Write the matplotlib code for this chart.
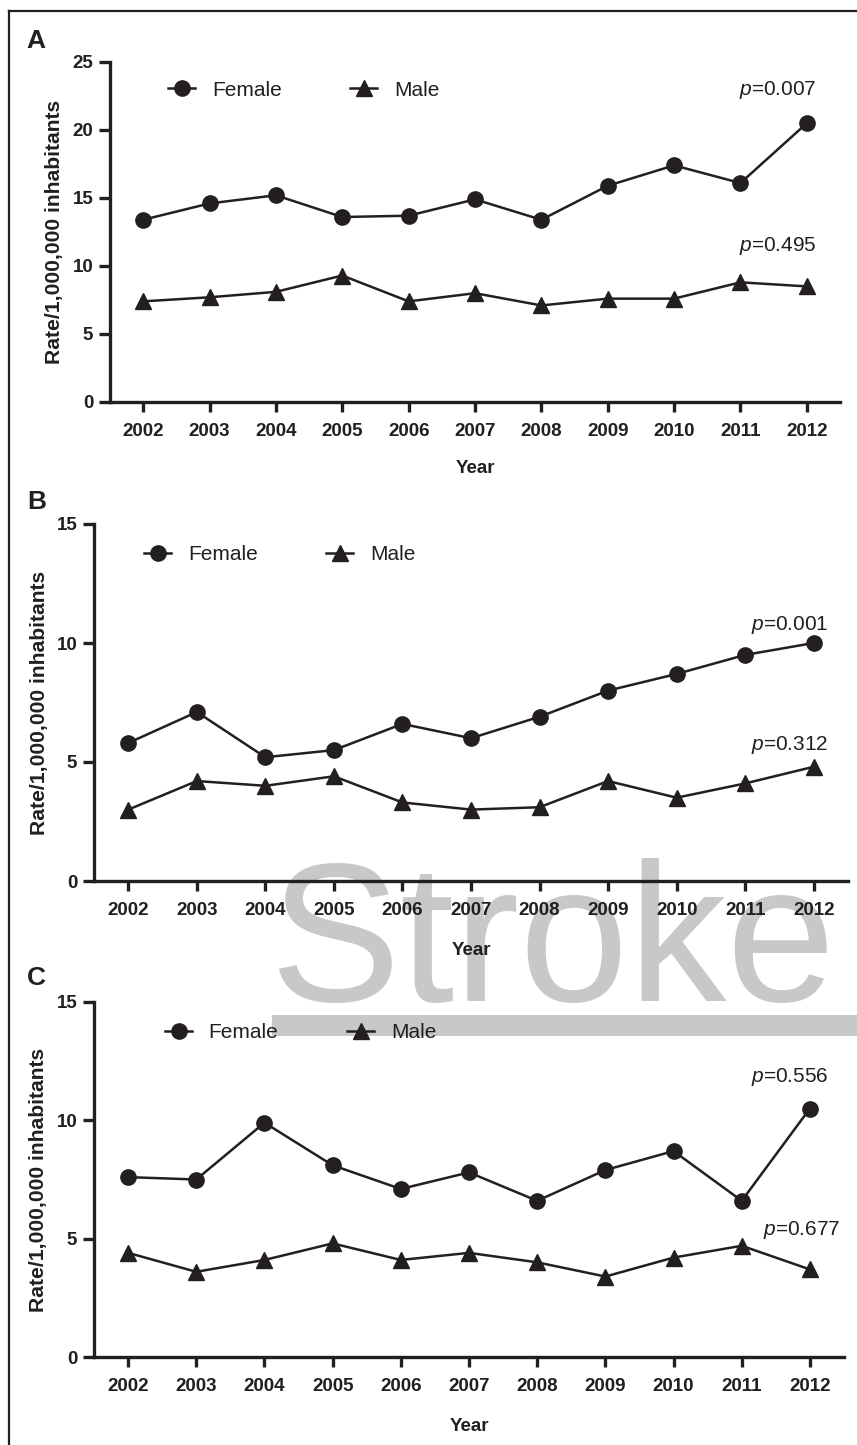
import matplotlib
matplotlib.use("Agg")
import matplotlib.pyplot as plt
from matplotlib.patches import Rectangle
from matplotlib.lines import Line2D

plt.rcParams["font.family"] = ["Liberation Sans", "DejaVu Sans"]
plt.rcParams["mathtext.fontset"] = "custom"
plt.rcParams["mathtext.it"] = "Liberation Sans:italic"
plt.rcParams["mathtext.rm"] = "Liberation Sans"

years = [2002, 2003, 2004, 2005, 2006, 2007, 2008, 2009, 2010, 2011, 2012]
year_labels = [str(y) for y in years]

female_a = [13.4, 14.6, 15.2, 13.6, 13.7, 14.9, 13.4, 15.9, 17.4, 16.1, 20.5]
male_a = [7.4, 7.7, 8.1, 9.3, 7.4, 8.0, 7.1, 7.6, 7.6, 8.8, 8.5]
female_b = [5.8, 7.1, 5.2, 5.5, 6.6, 6.0, 6.9, 8.0, 8.7, 9.5, 10.0]
male_b = [3.0, 4.2, 4.0, 4.4, 3.3, 3.0, 3.1, 4.2, 3.5, 4.1, 4.8]
female_c = [7.6, 7.5, 9.9, 8.1, 7.1, 7.8, 6.6, 7.9, 8.7, 6.6, 10.5]
male_c = [4.4, 3.6, 4.1, 4.8, 4.1, 4.4, 4.0, 3.4, 4.2, 4.7, 3.7]

p_female = ["0.007", "0.001", "0.556"]
p_male = ["0.495", "0.312", "0.677"]
panel_letters = ["A", "B", "C"]
y_max = [25, 15, 15]
y_ticks = [[0, 5, 10, 15, 20, 25], [0, 5, 10, 15], [0, 5, 10, 15]]

INK = "#231f20"
GREY = "#c8c8c8"
W, H = 857, 1445

fig = plt.figure(figsize=(W / 100, H / 100), dpi=100)


def fx(px):
    return px / W


def fy(py):
    return 1 - py / H


# watermark behind the panels
fig.text(fx(269), fy(1001), "Stroke", fontsize=141, color=GREY,
         ha="left", va="baseline", zorder=-5)
fig.patches.append(Rectangle((fx(272), fy(1036)), fx(857) - fx(272),
                             fy(1015) - fy(1036), transform=fig.transFigure,
                             facecolor=GREY, edgecolor="none", zorder=-5))

# frame lines (top and left)
fig.add_artist(Line2D([fx(9), 1.0], [fy(11), fy(11)], color=INK, lw=1.6,
                      transform=fig.transFigure))
fig.add_artist(Line2D([fx(9), fx(9)], [fy(11), 0.0], color=INK, lw=1.6,
                      transform=fig.transFigure))

# axes rectangles in pixels: left, right, top, bottom
boxes = [(110, 840, 62, 402), (94, 848, 524, 881), (94, 844, 1002, 1357)]
legend_pos = [(168, 90), (144, 555), (165, 1033)]
letter_pos = [(26, 41), (27, 502), (27, 978)]
pf_pos = [(778, 90), (790, 625), (790, 1077)]
pm_pos = [(778, 246), (790, 745), (802, 1230)]
ylabel_x = [64, 49, 48]

females = [female_a, female_b, female_c]
males = [male_a, male_b, male_c]

for i in range(3):
    l, r, t, b = boxes[i]
    ax = fig.add_axes([fx(l), fy(b), fx(r) - fx(l), fy(t) - fy(b)])
    ax.patch.set_visible(False)

    hf, = ax.plot(years, females[i], color=INK, lw=1.8, marker="o",
                  markersize=11, label="Female", clip_on=False)
    hm, = ax.plot(years, males[i], color=INK, lw=1.8, marker="^",
                  markersize=11, label="Male", clip_on=False)

    ax.set_xlim(2001.5, 2012.5)
    ax.set_ylim(0, y_max[i])
    ax.set_xticks(years)
    ax.set_xticklabels(year_labels)
    ax.set_yticks(y_ticks[i])

    for side in ("top", "right"):
        ax.spines[side].set_visible(False)
    for side in ("left", "bottom"):
        ax.spines[side].set_linewidth(2.4)
        ax.spines[side].set_color(INK)
        ax.spines[side].set_capstyle("projecting")

    ax.tick_params(axis="x", length=7, width=2.4, color=INK, pad=8,
                   labelsize=13.5, labelcolor=INK)
    ax.tick_params(axis="y", length=8, width=2.4, color=INK, pad=4,
                   labelsize=13.5, labelcolor=INK)
    for lab in ax.get_xticklabels() + ax.get_yticklabels():
        lab.set_fontweight("bold")

    ax.set_ylabel("Rate/1,000,000 inhabitants", fontsize=15.2,
                  fontweight="bold", color=INK)
    ax.yaxis.set_label_coords((ylabel_x[i] - l) / (r - l), 0.5)
    ax.set_xlabel("Year", fontsize=13.5, fontweight="bold", color=INK)
    ax.xaxis.set_label_coords(0.5, -0.171)

    lx, ly = legend_pos[i]
    ax.legend(handles=[hf, hm], loc="center left",
              bbox_to_anchor=(fx(lx), fy(ly)), bbox_transform=fig.transFigure,
              ncol=2, frameon=False, fontsize=15, handlelength=1.3,
              handletextpad=0.8, columnspacing=3.3, borderpad=0,
              borderaxespad=0, labelcolor=INK)

    fig.text(fx(pf_pos[i][0]), fy(pf_pos[i][1]),
             r"$\mathit{p}$=" + p_female[i], fontsize=15, color=INK,
             ha="center", va="center")
    fig.text(fx(pm_pos[i][0]), fy(pm_pos[i][1]),
             r"$\mathit{p}$=" + p_male[i], fontsize=15, color=INK,
             ha="center", va="center")

    fig.text(fx(letter_pos[i][0]), fy(letter_pos[i][1]), panel_letters[i],
             fontsize=19, fontweight="bold", color=INK, ha="left",
             va="center")

fig.savefig("out.png", dpi=100)
